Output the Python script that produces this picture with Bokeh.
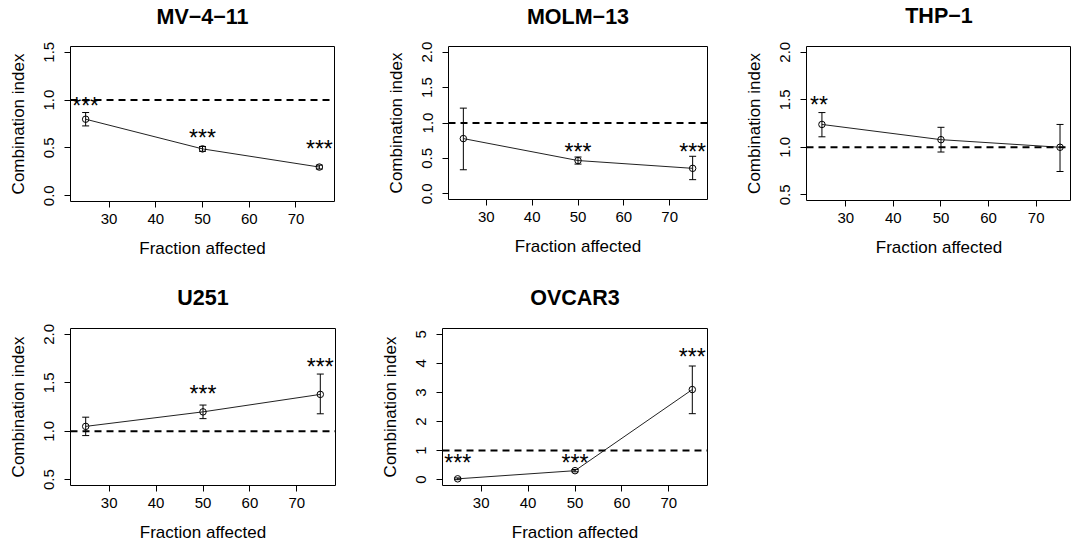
from bokeh.plotting import figure
from bokeh.layouts import column, row
from bokeh.models import (Range1d, FixedTicker, NumeralTickFormatter, Whisker,
                          TeeHead, Span, ColumnDataSource, LinearAxis)
from bokeh.core.properties import value
from bokeh.embed import file_html
from bokeh.resources import INLINE

# ---------------- data ----------------
fa = [25, 50, 75]                      # fraction affected (%)
x_ticks = [30, 40, 50, 60, 70]
reference_ci = 1.0                     # additivity line

mv411_ci = [0.80, 0.49, 0.30]
mv411_lo = [0.73, 0.465, 0.28]
mv411_hi = [0.87, 0.515, 0.32]
mv411_stars = ["***", "***", "***"]
mv411_star_y = [0.965, 0.638, 0.517]

molm13_ci = [0.78, 0.47, 0.36]
molm13_lo = [0.34, 0.42, 0.20]
molm13_hi = [1.21, 0.52, 0.53]
molm13_stars = ["", "***", "***"]
molm13_star_y = [None, 0.637, 0.637]

thp1_ci = [1.24, 1.08, 1.00]
thp1_lo = [1.11, 0.95, 0.745]
thp1_hi = [1.365, 1.21, 1.24]
thp1_stars = ["**", "", ""]
thp1_star_y = [1.477, None, None]

u251_ci = [1.05, 1.20, 1.38]
u251_lo = [0.955, 1.13, 1.18]
u251_hi = [1.145, 1.27, 1.59]
u251_stars = ["", "***", "***"]
u251_star_y = [None, 1.417, 1.69]

ovcar3_ci = [0.03, 0.31, 3.10]
ovcar3_lo = [0.0, 0.27, 2.27]
ovcar3_hi = [0.06, 0.35, 3.91]
ovcar3_stars = ["***", "***", "***"]
ovcar3_star_y = [0.667, 0.667, 4.33]

FONT = "Liberation Sans"


def panel(title, ci, lo, hi, stars, star_y, yr, yticks, yfmt, xr,
          fw, fh, bl, br, bt, bb, t_standoff, star_dx=0):
    p = figure(x_range=Range1d(*xr), y_range=Range1d(*yr),
               frame_width=fw, frame_height=fh,
               min_border_left=bl, min_border_right=br,
               min_border_top=bt, min_border_bottom=bb,
               output_backend="svg", toolbar_location=None, tools="")
    p.background_fill_color = "white"
    p.border_fill_color = "white"
    p.outline_line_color = "black"
    p.outline_line_width = 1
    p.xgrid.visible = False
    p.ygrid.visible = False

    xax = p.below[0]
    yax = p.left[0]
    for ax in (xax, yax):
        ax.axis_line_color = None
        ax.major_tick_out = 6
        ax.major_tick_in = 0
        ax.major_tick_line_color = "black"
        ax.minor_tick_line_color = None
        ax.major_label_text_font = FONT
        ax.major_label_text_font_size = "15px"
        ax.major_label_text_color = "black"
        ax.axis_label_text_font = FONT
        ax.axis_label_text_font_size = "17px"
        ax.axis_label_text_font_style = "normal"
        ax.axis_label_text_color = "black"

    xax.ticker = FixedTicker(ticks=x_ticks)
    xax.axis_label = "Fraction affected"
    xax.major_label_standoff = 6
    xax.axis_label_standoff = 12

    yax.ticker = FixedTicker(ticks=yticks)
    yax.formatter = NumeralTickFormatter(format=yfmt)
    yax.axis_label = "Combination index"
    yax.major_label_orientation = "vertical"
    yax.major_label_standoff = 10
    yax.axis_label_standoff = 14

    # panel title drawn as the label of a tick-less axis above the frame
    tax = LinearAxis(axis_label=title, ticker=FixedTicker(ticks=[]),
                     major_tick_out=0, major_tick_in=0, minor_tick_line_color=None,
                     major_tick_line_color=None, axis_line_color=None,
                     major_label_standoff=0, major_label_text_font_size="0px",
                     axis_label_standoff=t_standoff,
                     axis_label_text_font=FONT, axis_label_text_font_size="21.5px",
                     axis_label_text_font_style="bold", axis_label_text_color="black")
    p.add_layout(tax, "above")

    p.add_layout(Span(location=reference_ci, dimension="width",
                      line_color="black", line_width=2, line_dash="7 5"))

    src = ColumnDataSource(dict(x=fa, y=ci, lo=lo, hi=hi))
    p.line("x", "y", source=src, line_color="#222222", line_width=1)
    p.add_layout(Whisker(source=src, base="x", upper="hi", lower="lo",
                         dimension="height", line_color="black", line_width=1,
                         upper_head=TeeHead(size=7, line_color="black", line_width=1),
                         lower_head=TeeHead(size=7, line_color="black", line_width=1)))
    p.scatter("x", "y", source=src, marker="circle", size=6.5,
              fill_color=None, line_color="black", line_width=1)

    sx, sy, st = [], [], []
    for xv, yv, s in zip(fa, star_y, stars):
        if s:
            sx.append(xv); sy.append(yv); st.append(s)
    ssrc = ColumnDataSource(dict(x=sx, y=sy, t=st))
    p.text("x", "y", text="t", source=ssrc, text_font=value(FONT),
           text_font_size=value("23px"), text_align="center",
           text_baseline="alphabetic", y_offset=3, x_offset=star_dx,
           text_color="black")
    return p


xr = (21.76, 78.24)
p1 = panel("MV\u22124\u221211", mv411_ci, mv411_lo, mv411_hi, mv411_stars, mv411_star_y,
           (-0.06, 1.56), [0, 0.5, 1.0, 1.5], "0.0", xr,
           264, 155, 70, 44, 44, 73, 18)
p2 = panel("MOLM\u221213", molm13_ci, molm13_lo, molm13_hi, molm13_stars, molm13_star_y,
           (-0.08, 2.08), [0, 0.5, 1.0, 1.5, 2.0], "0.0", xr,
           259, 153, 70, 29, 43, 76, 18)
p3 = panel("THP\u22121", thp1_ci, thp1_lo, thp1_hi, thp1_stars, thp1_star_y,
           (0.44, 2.06), [0.5, 1.0, 1.5, 2.0], "0.0", (21.76, 77.41),
           265, 154, 70, 0, 45, 73, 19, star_dx=-3)
p4 = panel("U251", u251_ci, u251_lo, u251_hi, u251_stars, u251_star_y,
           (0.44, 2.06), [0.5, 1.0, 1.5, 2.0], "0.0", xr,
           265, 157, 70, 37, 54, 64, 19)
p5 = panel("OVCAR3", ovcar3_ci, ovcar3_lo, ovcar3_hi, ovcar3_stars, ovcar3_star_y,
           (-0.2, 5.2), [0, 1, 2, 3, 4, 5], "0", xr,
           265, 157, 70, 20, 54, 64, 19)

layout = column(row(p1, p2, p3), row(p4, p5))
open("out.html", "w").write(file_html(layout, INLINE))
